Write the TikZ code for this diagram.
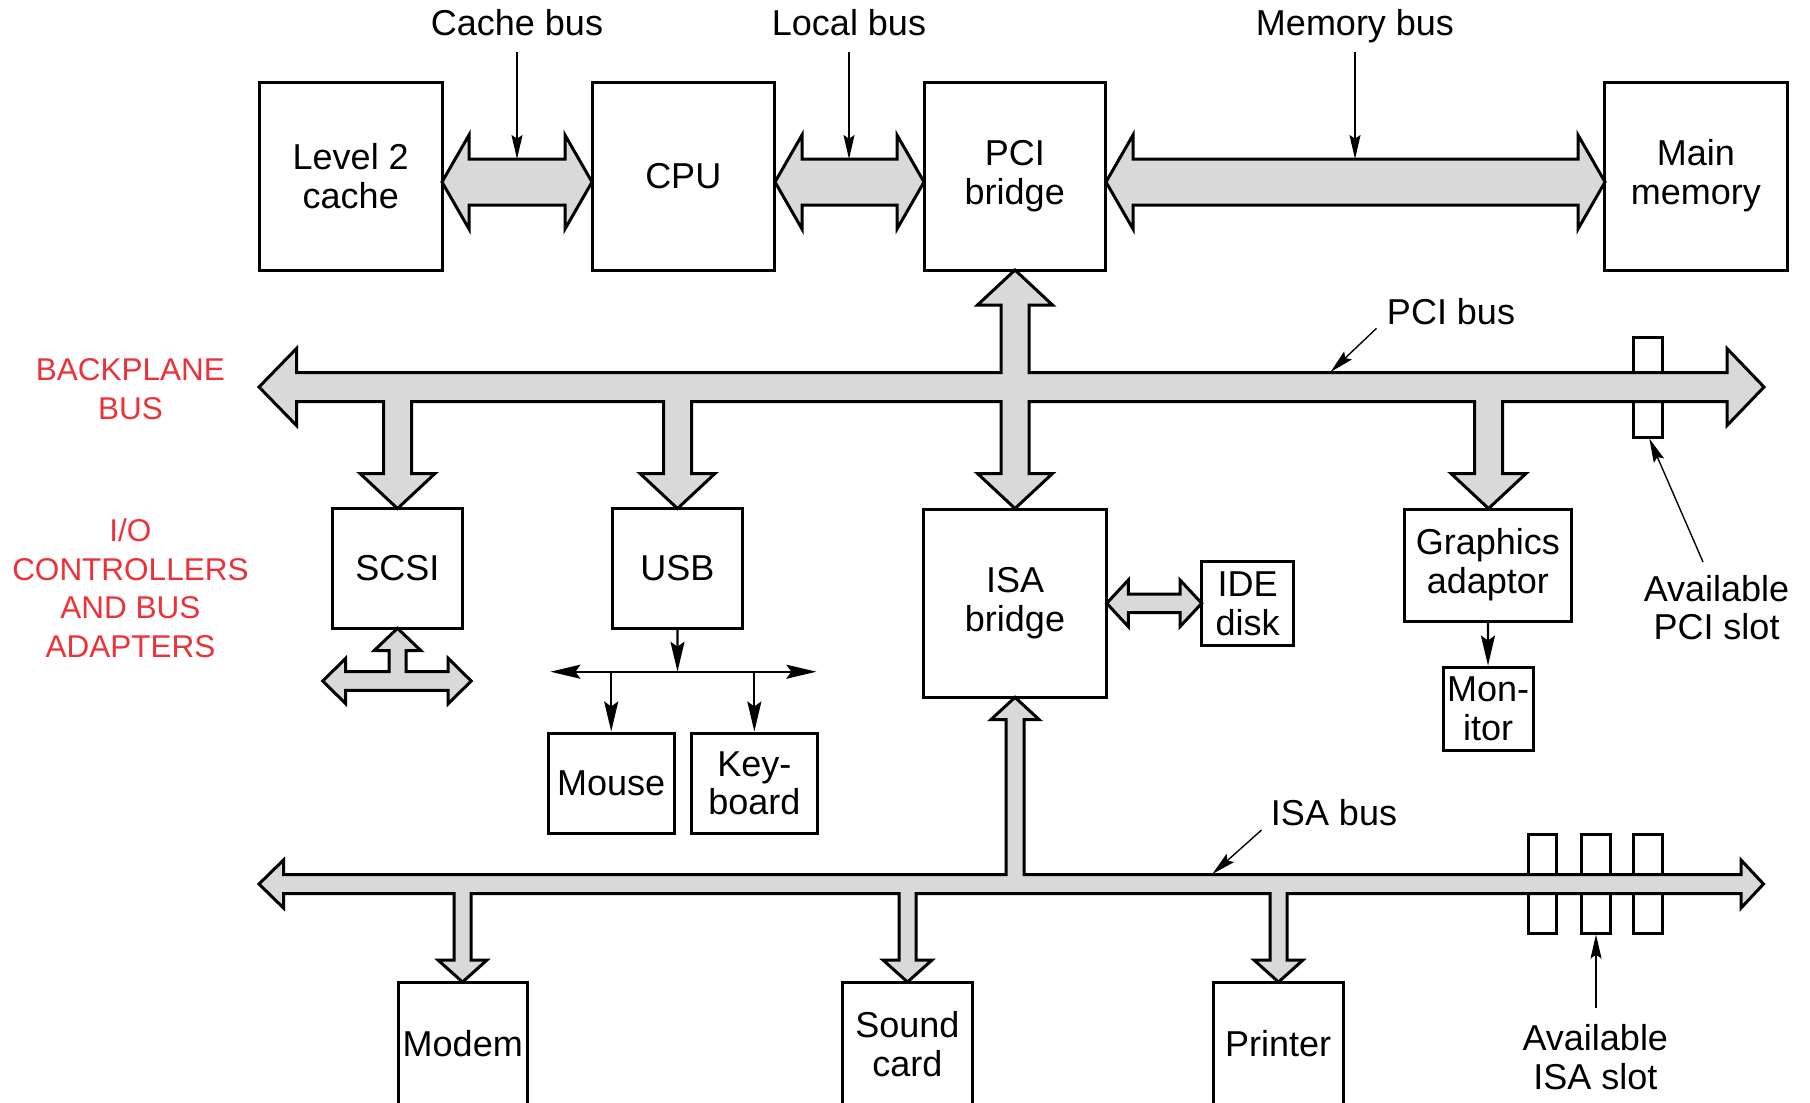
\documentclass[tikz,border=0pt]{standalone}
\usepackage{fontspec}
\setmainfont{Liberation Sans}
\usetikzlibrary{arrows.meta,calc}
\definecolor{busgray}{RGB}{217,217,217}
\definecolor{lblred}{RGB}{236,50,56}
\begin{document}
\begin{tikzpicture}[x=0.4pt,y=-0.4pt,
  unit/.style 2 args={draw, line width=1.2pt, inner sep=0pt, align=center,
    minimum width=#1*0.4pt, minimum height=#2*0.4pt,
    font=\fontsize{14.4}{15.5}\selectfont},
  bus/.style={fill=busgray, draw=black, line width=1.2pt, line join=miter},
  slot/.style={draw=black, line width=1.2pt},
  lbl/.style={inner sep=0pt, align=center, font=\fontsize{14.4}{15.5}\selectfont},
  redlbl/.style={inner sep=0pt, align=center, text=lblred, font=\fontsize{12.6}{15.4}\selectfont},
  pointer/.style={line width=0.55pt, -{Stealth[length=9.6pt, width=4.4pt, inset=1.5pt]}},
  wire/.style={line width=0.9pt, -{Stealth[length=12pt, width=5.6pt, inset=2pt]}},
  wiretwo/.style={line width=0.9pt, {Stealth[length=12pt, width=5.6pt, inset=2pt]}-{Stealth[length=12pt, width=5.6pt, inset=2pt]}},
]
\useasboundingbox (0,0) rectangle (1810,1102);
\clip (0,0) rectangle (1810,1102);

% ---------- slots (behind buses) ----------
\draw[slot] (1633.3,337.3) rectangle (1662.7,437.3);
\draw[slot] (1528.3,834) rectangle (1556.7,933.3);
\draw[slot] (1581.7,834) rectangle (1610,933.3);
\draw[slot] (1633.3,834) rectangle (1662.7,933.3);

% ---------- top buses ----------
\draw[bus] (442,182) -- (469,135) -- (469,159) -- (565,159) -- (565,135) -- (592,182)
  -- (565,229) -- (565,205) -- (469,205) -- (469,229) -- cycle;
\draw[bus] (775,182) -- (802,135) -- (802,159) -- (897,159) -- (897,135) -- (924,182)
  -- (897,229) -- (897,205) -- (802,205) -- (802,229) -- cycle;
\draw[bus] (1106,182) -- (1133,135) -- (1133,159) -- (1578,159) -- (1578,135) -- (1605,182)
  -- (1578,229) -- (1578,205) -- (1133,205) -- (1133,229) -- cycle;

% ---------- PCI bus ----------
\draw[bus] (259,387) -- (296.5,348.5) -- (296.5,372.7) -- (1001,372.7) -- (1001,305) -- (977.5,305)
  -- (1015,270) -- (1052.5,305) -- (1029,305) -- (1029,372.7) -- (1727,372.7) -- (1727,348.5)
  -- (1764,387) -- (1727,425.5) -- (1727,401.7)
  -- (1502.5,401.7) -- (1502.5,473.5) -- (1526,473.5) -- (1488.5,508.5) -- (1451,473.5) -- (1474.5,473.5) -- (1474.5,401.7)
  -- (1029,401.7) -- (1029,473.5) -- (1052.5,473.5) -- (1015,508.5) -- (977.5,473.5) -- (1001,473.5) -- (1001,401.7)
  -- (691.5,401.7) -- (691.5,473.5) -- (715,473.5) -- (677.5,508.5) -- (640,473.5) -- (663.5,473.5) -- (663.5,401.7)
  -- (411.5,401.7) -- (411.5,473.5) -- (435,473.5) -- (397.5,508.5) -- (360,473.5) -- (383.5,473.5) -- (383.5,401.7)
  -- (296.5,401.7) -- (296.5,425.5) -- cycle;

% ---------- ISA bus ----------
\draw[bus] (259,884) -- (283.5,860) -- (283.5,874.5) -- (1006,874.5) -- (1006,719.5) -- (991,719.5)
  -- (1015,697.3) -- (1039,719.5) -- (1024,719.5) -- (1024,874.5) -- (1741,874.5) -- (1741,860)
  -- (1763.5,884) -- (1741,908) -- (1741,893.5)
  -- (1287,893.5) -- (1287,960) -- (1303,960) -- (1278.5,982) -- (1254,960) -- (1270,960) -- (1270,893.5)
  -- (916,893.5) -- (916,960) -- (932,960) -- (907.5,982) -- (883,960) -- (899,960) -- (899,893.5)
  -- (471,893.5) -- (471,960) -- (487,960) -- (462.5,982) -- (438,960) -- (454,960) -- (454,893.5)
  -- (283.5,893.5) -- (283.5,908) -- cycle;

% ---------- SCSI T connector ----------
\draw[bus] (397.5,628.3) -- (421,650.7) -- (406,650.7) -- (406,671.7) -- (448.2,671.7) -- (448.2,658.3)
  -- (471.2,681) -- (448.2,703.7) -- (448.2,690.3) -- (345.7,690.3) -- (345.7,703.7) -- (322.7,681)
  -- (345.7,658.3) -- (345.7,671.7) -- (389,671.7) -- (389,650.7) -- (374,650.7) -- cycle;

% ---------- ISA bridge <-> IDE ----------
\draw[bus] (1106.7,603.3) -- (1128.3,580) -- (1128.3,594.1) -- (1180,594.1) -- (1180,580) -- (1201.7,603.3)
  -- (1180,626.6) -- (1180,612.5) -- (1128.3,612.5) -- (1128.3,626.6) -- cycle;

% ---------- boxes ----------
\node[unit={183.5}{188}] (l2) at (350.75,176) {Level 2\\cache};
\node[unit={182.5}{188}] (cpu) at (683.25,176) {CPU};
\node[unit={181.5}{188}] (pcib) at (1014.75,176) {PCI\\bridge};
\node[unit={182.5}{188}] (mem) at (1695.75,176) {Main\\memory};
\node[unit={130.1}{119.8}] (scsi) at (397.35,568.4) {SCSI};
\node[unit={130.1}{119.8}] (usb) at (677.45,568.4) {USB};
\node[unit={183.4}{188.3}] (isab) at (1015,603.15) {ISA\\bridge};
\node[unit={91.6}{84}] (ide) at (1247.5,603.7) {IDE\\disk};
\node[unit={166.2}{112}] (gfx) at (1487.9,565) {Graphics\\adaptor};
\node[unit={90}{83}] (mon) at (1488,708.5) {Mon-\\itor};
\node[unit={125.8}{100.4}] (mouse) at (611.2,783.2) {Mouse};
\node[unit={125.9}{100.4}] (kbd) at (754.35,783.2) {Key-\\board};
\node[unit={129.5}{124}] (modem) at (462.75,1044) {Modem};
\node[unit={129.4}{124}] (sound) at (907.3,1044) {Sound\\card};
\node[unit={130}{124}] (printer) at (1278,1044) {Printer};

% ---------- USB wiring ----------
\coordinate (usbm) at (677.5,671.7);
\coordinate (usbl) at (550.4,671.7);
\coordinate (usbr) at (816.4,671.7);
\draw[wire] (usb.south) -- (usbm);
\draw[wiretwo] (usbl) -- (usbr);
\draw[wire] (mouse.north |- usbm) -- (mouse.north);
\draw[wire] (kbd.north |- usbm) -- (kbd.north);
\draw[wire] (gfx.south) -- (mon.north);

% ---------- labels ----------
\node[lbl, anchor=base] (cachebus) at (517,35.5) {Cache bus};
\node[lbl, anchor=base] (localbus) at (849,35.5) {Local bus};
\node[lbl, anchor=base] (membus) at (1355,35.5) {Memory bus};
\node[lbl, anchor=base] (pcibus) at (1451,324) {PCI bus};
\node[lbl, anchor=base] (isabus) at (1334,825.5) {ISA bus};
\node[lbl] (pcislot) at (1716.5,607.5) {Available\\PCI slot};
\node[lbl] (isaslot) at (1595.3,1057) {Available\\ISA slot};
\node[redlbl] (backplane) at (130.4,389) {BACKPLANE\\BUS};
\node[redlbl] (ioctl) at (130.4,588) {I/O\\CONTROLLERS\\AND BUS\\ADAPTERS};

\coordinate (cachetip) at (517,159);
\coordinate (localtip) at (849,159);
\coordinate (memtip) at (1355,159);
\coordinate (pcitip) at (1330.5,372);
\coordinate (isatip) at (1212.3,874);
\coordinate (pcislottip) at (1649.3,438.5);
\coordinate (isaslottip) at (1596,934.5);

\draw[pointer] (517,52) -- (cachetip);
\draw[pointer] (849,52) -- (localtip);
\draw[pointer] (1355,52) -- (memtip);
\draw[pointer] (1376.5,328.3) -- (pcitip);
\draw[pointer] (1261.5,830) -- (isatip);
\draw[pointer] (1703,562) -- (pcislottip);
\draw[pointer] (1596,1008) -- (isaslottip);
\end{tikzpicture}
\end{document}
